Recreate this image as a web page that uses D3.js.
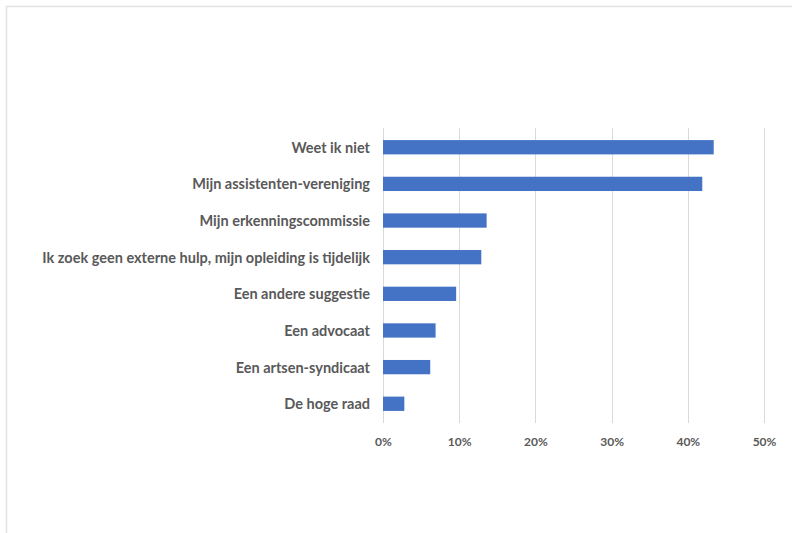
<!DOCTYPE html>
<html>
<head>
<meta charset="utf-8">
<script src="https://cdn.jsdelivr.net/npm/d3@7"></script>
<style>
  html, body { margin: 0; padding: 0; background: #fff; }
  #chart { width: 792px; height: 533px; }
  text { font-family: Lato, "Open Sans", sans-serif; font-weight: 700; fill: #595959; }
</style>
</head>
<body>
<div id="chart"></div>
<script>
// Categories top to bottom and their shares (fraction)
const categories = [
  'Weet ik niet',
  'Mijn assistenten-vereniging',
  'Mijn erkenningscommissie',
  'Ik zoek geen externe hulp, mijn opleiding is tijdelijk',
  'Een andere suggestie',
  'Een advocaat',
  'Een artsen-syndicaat',
  'De hoge raad'
];
const shares = [0.434, 0.419, 0.136, 0.129, 0.096, 0.069, 0.062, 0.028];
const tickValues = [0, 0.1, 0.2, 0.3, 0.4, 0.5];

const width = 792, height = 533;
const margin = { top: 128, right: 28, bottom: 110, left: 383 };
const innerW = width - margin.left - margin.right;
const innerH = height - margin.top - margin.bottom;

const svg = d3.select('#chart').append('svg')
  .attr('width', width)
  .attr('height', height);

// outer frame, runs off the right and bottom edge
svg.append('rect')
  .attr('x', 6.5).attr('y', 6.5)
  .attr('width', 820).attr('height', 560)
  .attr('fill', 'none')
  .attr('stroke', '#e3e3e3')
  .attr('stroke-width', 1.5);

const g = svg.append('g').attr('transform', `translate(${margin.left},${margin.top})`);

const x = d3.scaleLinear().domain([0, 0.5]).range([0, 381]);
const y = d3.scaleBand()
  .domain(categories)
  .range([0, innerH])
  .paddingInner(0.61)
  .paddingOuter(0.33);

// gridlines
g.append('g')
  .selectAll('line')
  .data(tickValues)
  .join('line')
  .attr('x1', d => Math.round(x(d)) + 0.5)
  .attr('x2', d => Math.round(x(d)) + 0.5)
  .attr('y1', 0)
  .attr('y2', innerH)
  .attr('stroke', '#d9d9d9')
  .attr('stroke-width', 1);

// bars
g.selectAll('rect.bar')
  .data(categories)
  .join('rect')
  .attr('class', 'bar')
  .attr('x', 0)
  .attr('y', d => y(d))
  .attr('width', (d, i) => x(shares[i]))
  .attr('height', y.bandwidth())
  .attr('fill', '#4472c4');

// category labels
const yAxis = d3.axisLeft(y).tickSize(0).tickPadding(13);
const ya = g.append('g').call(yAxis);
ya.select('.domain').remove();
ya.selectAll('text')
  .attr('font-size', 14.5)
  .attr('dy', '0.38em')
  .style('font-family', 'Lato, "Open Sans", sans-serif')
  .style('font-weight', 700)
  .attr('fill', '#595959');

// percentage ticks
const xAxis = d3.axisBottom(x).tickValues(tickValues).tickFormat(d3.format('.0%')).tickSize(0).tickPadding(14);
const xa = g.append('g').attr('transform', `translate(0,${innerH})`).call(xAxis);
xa.select('.domain').remove();
xa.selectAll('text')
  .attr('font-size', 12)
  .style('font-family', 'Lato, "Open Sans", sans-serif')
  .style('font-weight', 700)
  .attr('fill', '#6b6b6b');
</script>
</body>
</html>
